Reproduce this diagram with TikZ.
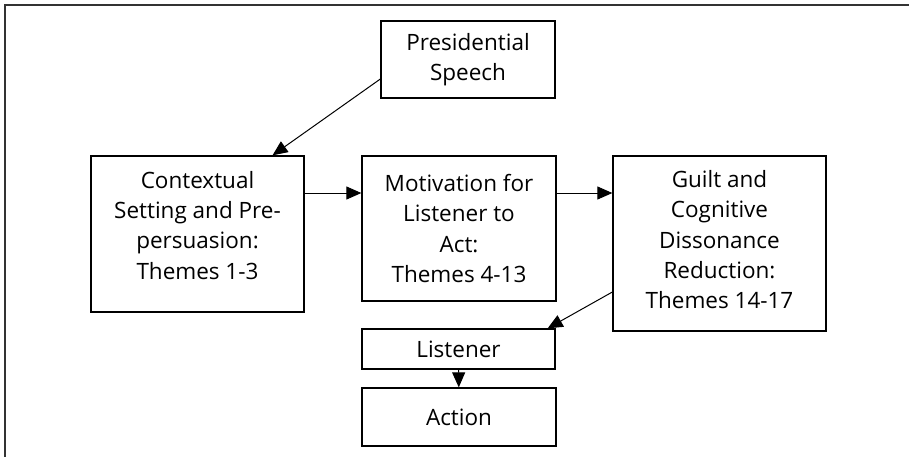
\documentclass[tikz,border=0pt]{standalone}
\usepackage{fontspec}
\setmainfont{Open Sans}
\usetikzlibrary{arrows.meta,calc}
\definecolor{frame}{HTML}{333333}

\tikzset{
  stage/.style={draw, line width=1.3pt, align=center, inner sep=2pt,
    font=\fontsize{22.5}{30.3}\selectfont},
  arr/.style={line width=1pt, -{Triangle[length=15pt,width=13pt]}}
}

\begin{document}
\begin{tikzpicture}[x=1pt,y=-1pt]
\useasboundingbox (0,0) rectangle (909,456);
\draw[frame, line width=2pt] (5,460) -- (5,5) -- (915,5);

% stages of the speech
\node[stage, minimum width=174, minimum height=77] (speech) at (468,59.5) {Presidential\\Speech};
\node[stage, minimum width=213, minimum height=156, text depth=18pt] (context) at (197.5,234) {Contextual\\Setting and Pre-\\persuasion:\\Themes 1-3};
\node[stage, minimum width=194, minimum height=145] (motive) at (459,228.5) {Motivation for\\Listener to\\Act:\\Themes 4-13};
\node[stage, minimum width=213, minimum height=175, text depth=8pt] (guilt) at (719.5,243.5) {Guilt and\\Cognitive\\Dissonance\\Reduction:\\Themes 14-17};
\node[stage, minimum width=193, minimum height=40] (listener) at (458.5,349) {Listener};
\node[stage, minimum width=194, minimum height=58] (action) at (459,417) {Action};

% heights where the connectors leave
\coordinate (r0) at (0,79);
\coordinate (r1) at (0,193);
\coordinate (r2) at (0,292);

\draw[arr] (speech.west |- r0) -- ($(context.north)+(75,0)$);
\draw[arr] (context.east |- r1) -- (motive.west |- r1);
\draw[arr] (motive.east |- r1) -- (guilt.west |- r1);
\draw[arr] (guilt.west |- r2) -- ($(listener.north east)+(-8,0)$);
\draw[arr] (listener) -- (action);
\end{tikzpicture}
\end{document}
